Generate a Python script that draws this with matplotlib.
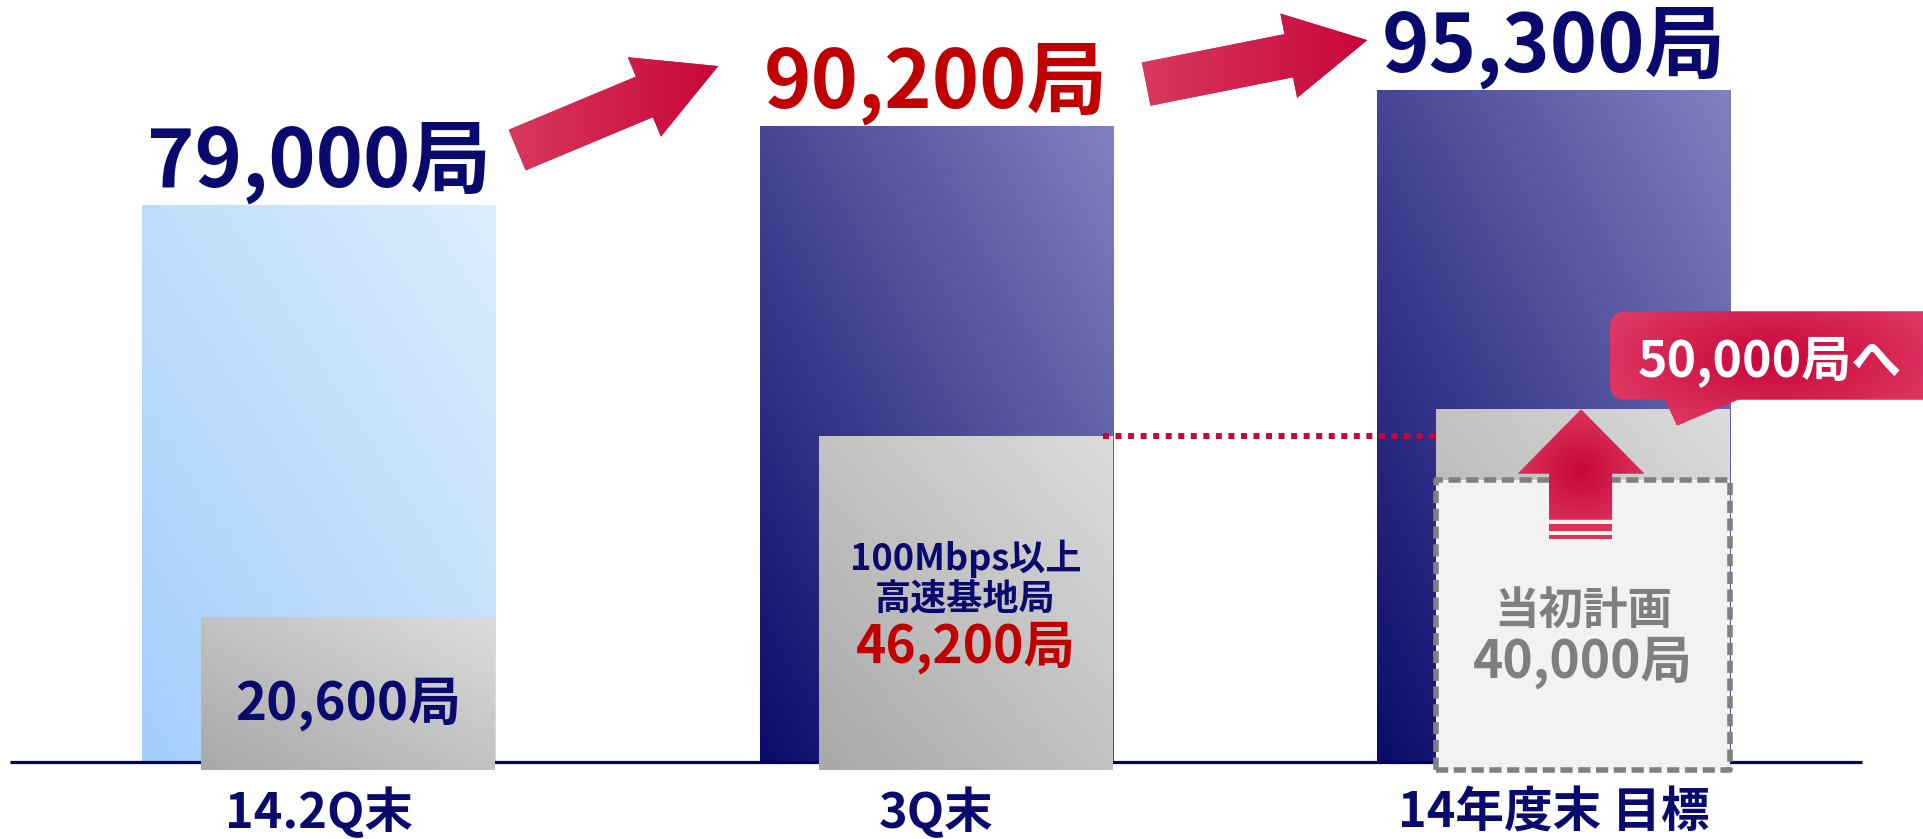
import numpy as np
import matplotlib
matplotlib.use('Agg')
import matplotlib.pyplot as plt
from matplotlib.colors import LinearSegmentedColormap
from matplotlib.patches import Polygon, Rectangle, FancyBboxPatch
from matplotlib.transforms import IdentityTransform

plt.rcParams['font.family'] = ['Noto Sans CJK JP', 'DejaVu Sans']

# data
categories = ['14.2Q末', '3Q末', '14年度末 目標']
totals = [79000, 90200, 95300]
fast = [20600, 46200, 50000]
plan = 40000
fast_note = ['100Mbps以上', '高速基地局']
plan_note = '当初計画'
total_colors = ['#0a0a6e', '#c00000', '#0a0a6e']

NAVY = '#0a0a6e'
RED = '#c00000'
GRAY = '#7f7f7f'

fig = plt.figure(figsize=(19.23, 8.39), dpi=100)
ax = fig.add_axes([0, 0, 1, 1])
ax.axis('off')
xlim = (-0.516, 2.598)
ylim = (-10922, 108085)
ax.set_xlim(*xlim)
ax.set_ylim(*ylim)

x = np.arange(len(categories))
bar_w = 0.572
in_w, in_off = 0.475, -0.19     # grey boxes hug the right edge of each bar
sink = 1100                     # grey boxes hang a little below the axis line
xc = x + in_off + in_w / 2


def cmap(*cols):
    return LinearSegmentedColormap.from_list('c', cols)


def diag_fill(rect, cm, z):
    g = np.linspace(0, 1, 256)
    gx, gy = np.meshgrid(g, g)
    x0, y0 = rect.get_xy()
    ax.imshow((gx + gy) / 2, cmap=cm, vmin=0, vmax=1, origin='lower',
              aspect='auto', interpolation='bilinear', zorder=z,
              extent=(x0, x0 + rect.get_width(), y0, y0 + rect.get_height()))


def px_fill(patch, box, cm, z, center=None, radius=None):
    # gradient laid out in pixels, clipped to a patch drawn in pixels
    x0, x1, y0, y1 = box
    gx, gy = np.meshgrid(np.linspace(x0, x1, 300), np.linspace(y0, y1, 300))
    if center is None:
        val = (gx - x0) / (x1 - x0)
    else:
        val = np.clip(np.hypot((gx - center[0]) / radius[0],
                               (gy - center[1]) / radius[1]), 0, 1)
    im = ax.imshow(val, cmap=cm, vmin=0, vmax=1, origin='lower', aspect='auto',
                   extent=box, transform=IdentityTransform(), zorder=z)
    im.set_clip_path(patch)


def P(xd, yd, dx=0, dy=0):
    return ax.transData.transform((xd, yd)) + np.array([dx, dy])


def arrow_pts(p0, p1, w=44, hw=86, hl=80):
    d = p1 - p0
    u = d / np.hypot(*d)
    n = np.array([-u[1], u[0]])
    b = p1 - u * hl
    return np.array([p0 + n * w / 2, b + n * w / 2, b + n * hw / 2, p1,
                     b - n * hw / 2, b - n * w / 2, p0 - n * w / 2])


# main bars
outer = ax.bar(x, totals, width=bar_w, color='none', zorder=1)
outer_cms = [cmap('#a3cefb', '#dcedfd'), cmap('#0b0b6b', '#8181c0'),
             cmap('#0b0b6b', '#8181c0')]
for r, cm in zip(outer, outer_cms):
    diag_fill(r, cm, 1)

ax.hlines(0, -0.5, 2.5, colors='#000066', lw=2.3, zorder=2)

# grey inner boxes
inner = ax.bar(x + in_off, np.array(fast) + sink, bottom=-sink, width=in_w,
               align='edge', color='none', zorder=3)
for r in inner:
    diag_fill(r, cmap('#a8a8a8', '#dcdcdc'), 3)

ax.hlines(fast[1], x[1] + 0.27, x[2] + in_off, colors='#c8063a', lw=4.3,
          linestyles=(0, (1, 1.1)), zorder=3.5)

# original plan box
ax.add_patch(Rectangle((x[2] + in_off, -sink), in_w, plan + sink, fc='#f2f2f2',
                       ec='#808080', lw=4, ls=(0, (2.2, 1.0)),
                       joinstyle='round', zorder=4))

# arrows between totals
legs = [(P(x[0], totals[0], 198.5, 55), P(x[1], totals[1], -218, 60)),
        (P(x[1], totals[1], 210, 42), P(x[2], totals[2], -186.5, 50))]
for p0, p1 in legs:
    pts = arrow_pts(p0, p1)
    poly = Polygon(pts, closed=True, fc='#d02050', ec='none',
                   transform=IdentityTransform(), zorder=5)
    ax.add_patch(poly)
    px_fill(poly, (pts[:, 0].min(), pts[:, 0].max(), pts[:, 1].min(), pts[:, 1].max()),
            cmap('#d8395e', '#c8063a'), 5.1)

# up arrow from plan to target
a = P(xc[2], fast[2])
up = a + np.array([(-2, 0), (61, -64), (29, -64), (29, -110), (-34, -110),
                   (-34, -64), (-65, -64)])
upp = Polygon(up, closed=True, fc='#d42049', ec='none',
              transform=IdentityTransform(), zorder=5)
ax.add_patch(upp)
px_fill(upp, (a[0] - 70, a[0] + 66, a[1] - 115, a[1] + 2),
        cmap('#c8063a', '#dd3a5e'), 5.1, center=a + (-2, -62), radius=(75, 70))
for y0, h in [(-122, 7), (-130, 4)]:
    ax.add_patch(Rectangle(a + (-34, y0), 63, h, fc='#dc3358', ec='none',
                           transform=IdentityTransform(), zorder=5))

# callout
box = FancyBboxPatch(a + (27, 10), 400, 88, boxstyle='round,pad=0,rounding_size=16',
                     fc='#d42049', ec='none', transform=IdentityTransform(), zorder=6)
tail = Polygon([a + (81, 12), a + (160, 12), a + (94, -16)], closed=True,
               fc='#d42049', ec='none', transform=IdentityTransform(), zorder=6)
for p in (box, tail):
    ax.add_patch(p)
    px_fill(p, (a[0] + 20, a[0] + 440, a[1] - 20, a[1] + 100),
            cmap('#c8063a', '#e2406a'), 6.1, center=a + (190, 50), radius=(210, 90))

# texts
for xi, v, c in zip(x, totals, total_colors):
    ax.annotate(f'{v:,}局', (xi, v), xytext=(0, 19), textcoords='offset pixels',
                ha='center', va='baseline', fontsize=58, fontweight='bold',
                color=c, zorder=8)
for xi, c in zip(x, categories):
    ax.annotate(c, (xi, 0), xytext=(0, -66), textcoords='offset pixels',
                ha='center', va='baseline', fontsize=35, fontweight='bold',
                color=NAVY, zorder=8)

inner_text = [(xc[0], f'{fast[0]:,}局', 42, 38, NAVY),
              (xc[1], fast_note[0], 192, 26, NAVY),
              (xc[1], fast_note[1], 152, 26, NAVY),
              (xc[1], f'{fast[1]:,}局', 99, 37, RED),
              (xc[2], plan_note, 138, 32, GRAY),
              (xc[2], f'{plan:,}局', 84, 37, GRAY)]
for xi, t, off, fs, c in inner_text:
    ax.annotate(t, (xi, 0), xytext=(0, off), textcoords='offset pixels',
                ha='center', va='baseline', fontsize=fs, fontweight='bold',
                color=c, zorder=8)

ax.annotate(f'{fast[2]:,}局へ', (xc[2], fast[2]), xytext=(187, 33),
            textcoords='offset pixels', ha='center', va='baseline', fontsize=36,
            fontweight='bold', color='white', zorder=8)

ax.set_xlim(*xlim)
ax.set_ylim(*ylim)
fig.savefig('out.png', dpi=100)
